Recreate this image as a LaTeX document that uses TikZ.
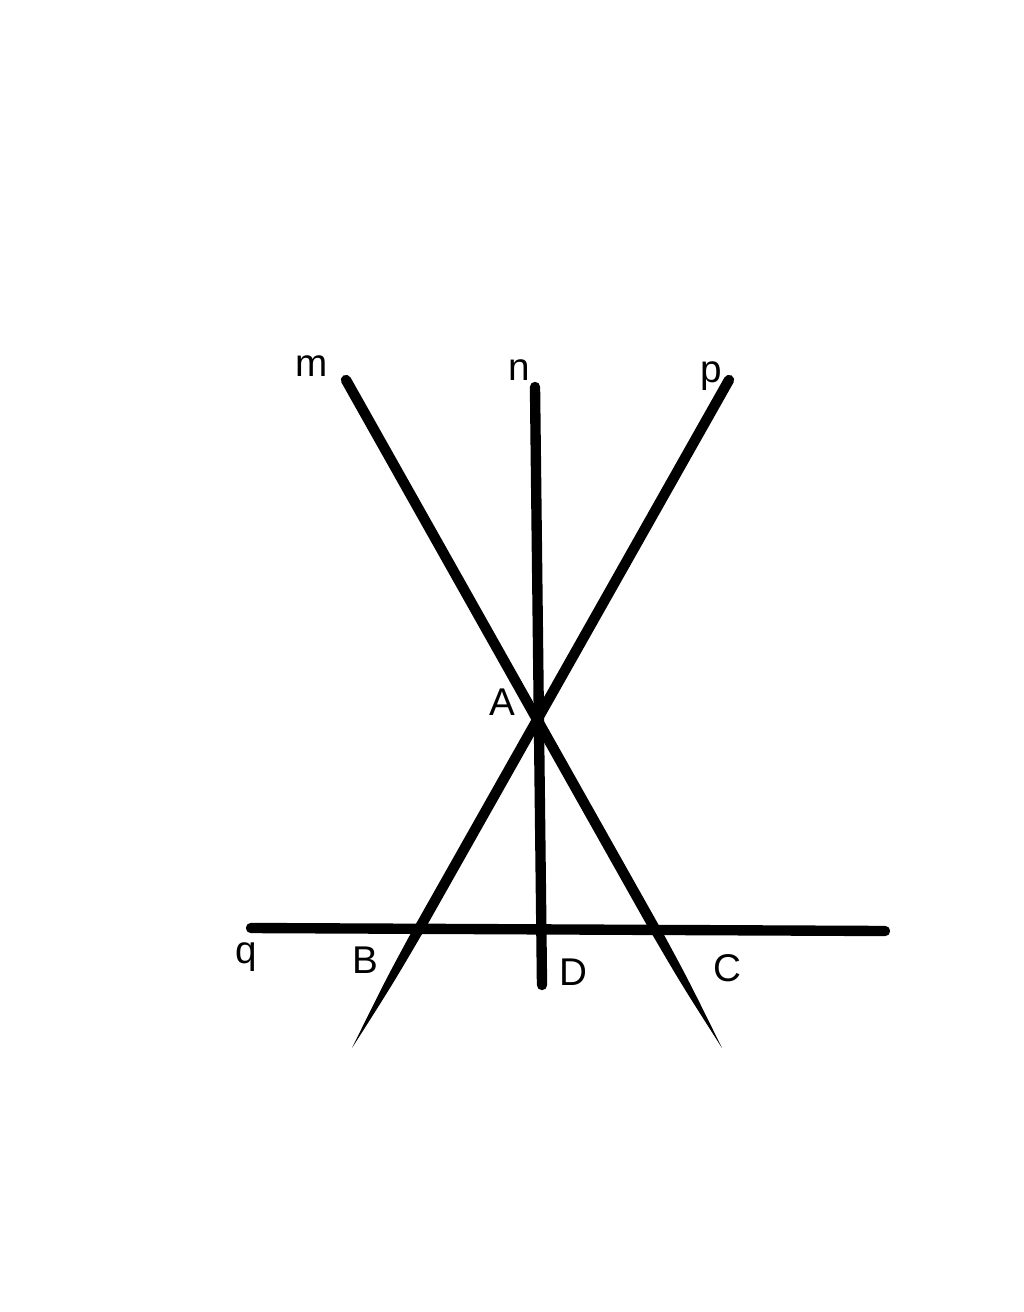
\documentclass[tikz,border=0pt]{standalone}
\usepackage{fontspec}
\setmainfont{Liberation Sans}
\usetikzlibrary{calc}

\begin{document}
\begin{tikzpicture}[x=0.02cm, y=-0.02cm,
    line/.style={line width=5.9pt, line cap=round},
    lbl/.style={inner sep=0pt, font=\fontsize{22}{26}\selectfont}]
        \useasboundingbox (0,0) rectangle (1024,1312);
        \coordinate (mtop) at (346,380);
        \coordinate (mb) at (655,929);
        \coordinate (mtip) at (722,1048);
        \coordinate (ptop) at (729,380);
        \coordinate (pb) at (419,929);
        \coordinate (ptip) at (352,1048);
        \coordinate (ntop) at (535,387);
        \coordinate (nbot) at (542,985);
        \coordinate (qleft) at (251,928);
        \coordinate (qright) at (885,931);

        \draw [line] (mtop) -- (mb);
        \fill ($(mb)+(4.5,-2.5)$) .. controls ($(mb)!0.45!(mtip)+(3.6,-2)$) .. (mtip)
            .. controls ($(mb)!0.45!(mtip)-(3.6,-2)$) .. ($(mb)-(4.5,-2.5)$) -- cycle;
        \draw [line] (ptop) -- (pb);
        \fill ($(pb)+(4.5,2.5)$) .. controls ($(pb)!0.45!(ptip)+(3.6,2)$) .. (ptip)
            .. controls ($(pb)!0.45!(ptip)-(3.6,2)$) .. ($(pb)-(4.5,2.5)$) -- cycle;
        \draw [line] (ntop) -- (nbot);
        \draw [line] (qleft) -- (qright);

        \node [lbl] (m) at (312,366) {m};
        \node [lbl] (n) at (519,370) {n};
        \node [lbl] (p) at (711,376) {p};
        \node [lbl] (A) at (502,702) {A};
        \node [lbl] (q) at (246,957) {q};
        \node [lbl] (B) at (365,960) {B};
        \node [lbl] (D) at (573,972) {D};
        \node [lbl] (C) at (727,968) {C};
\end{tikzpicture}
\end{document}
